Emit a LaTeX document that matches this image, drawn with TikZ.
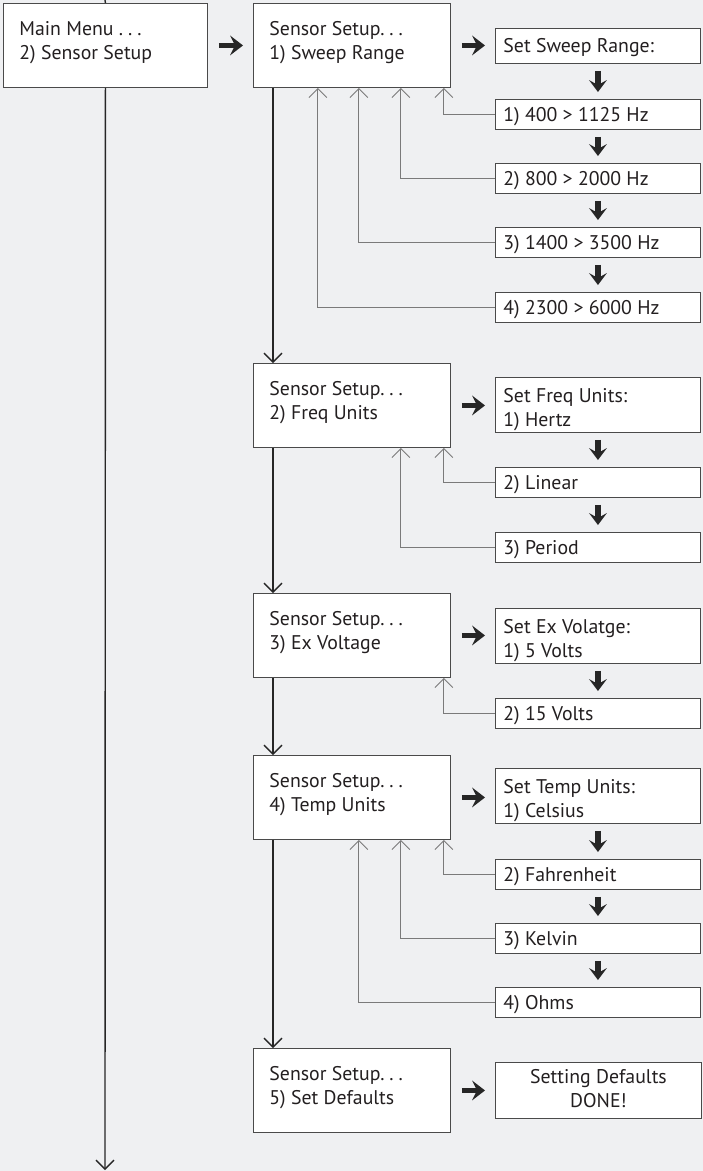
\documentclass[tikz,border=0pt]{standalone}
\usepackage{fontspec}
\setmainfont{PT Sans}
\usetikzlibrary{arrows.meta}
\definecolor{bg}{HTML}{EFF0F2}
\definecolor{boxc}{HTML}{4A4A4A}
\definecolor{fbc}{HTML}{7A7A7A}
\definecolor{mainc}{HTML}{262626}
\definecolor{txtc}{HTML}{231F20}
\newcommand\bigtxt[3][197pt]{\parbox[c][84pt][t]{#1}{\leftskip16pt\rule{0pt}{32pt}#2\\#3}}
\newcommand\onel[3]{\parbox[c][#1][t]{205pt}{\leftskip8pt\rule{0pt}{#2}#3}}
\newcommand\twol[2]{\parbox[c][55pt][t]{205pt}{\leftskip8pt\rule{0pt}{25pt}#1\\#2}}
\newcommand\dotsp{.\hspace{5pt}.\hspace{5pt}.}
\begin{document}
\begin{tikzpicture}[x=1pt,y=-1pt,
  every node/.style={font=\fontsize{19.8}{24}\selectfont, text=txtc},
  bigbox/.style={draw=boxc, fill=white, line width=0.9pt, inner sep=0pt, minimum width=197pt, minimum height=84pt, anchor=north west},
  smallbox/.style={draw=boxc, fill=white, line width=0.9pt, inner sep=0pt, minimum width=205pt, anchor=north west},
  mainln/.style={draw=mainc, line width=1.4pt},
  openhead/.style={-{Straight Barb[length=9pt,width=18pt]}},
  fb/.style={draw=fbc, line width=0.9pt, openhead},
  boldh/.style={draw=mainc, line width=5.5pt, -{Stealth[length=13pt,width=20pt,inset=5pt,line width=0pt]}, shorten <=11pt, shorten >=10pt},
  boldv/.style={draw=mainc, line width=5.5pt, -{Stealth[length=12pt,width=18pt,inset=5pt,line width=0pt]}, shorten <=7pt, shorten >=7pt}
]
\fill[bg] (0,0) rectangle (703,1171);
\useasboundingbox (0,0) rectangle (703,1171);

% left column
\node[bigbox, minimum width=204pt] (main) at (3,3) {\bigtxt[204pt]{Main Menu \dotsp}{2) Sensor Setup}};
\coordinate (top) at (105,0);
\coordinate (bot) at (105,1170);

% sensor column
\node[bigbox] (s1) at (253,3) {\bigtxt{Sensor Setup\dotsp}{1) Sweep Range}};
\node[bigbox] (s2) at (253,363) {\bigtxt{Sensor Setup\dotsp}{2) Freq Units}};
\node[bigbox] (s3) at (253,593) {\bigtxt{Sensor Setup\dotsp}{3) Ex Voltage}};
\node[bigbox] (s4) at (253,755) {\bigtxt{Sensor Setup\dotsp}{4) Temp Units}};
\node[bigbox] (s5) at (253,1048) {\bigtxt{Sensor Setup\dotsp}{5) Set Defaults}};

% right column
\node[smallbox] (sw0) at (495,28) {\onel{35pt}{24pt}{Set Sweep Range:}};
\node[smallbox] (sw1) at (495,99) {\onel{30pt}{22pt}{1) 400 > 1125 Hz}};
\node[smallbox] (sw2) at (495,163) {\onel{30pt}{22pt}{2) 800 > 2000 Hz}};
\node[smallbox] (sw3) at (495,227) {\onel{30pt}{22pt}{3) 1400 > 3500 Hz}};
\node[smallbox] (sw4) at (495,292) {\onel{30pt}{22pt}{4) 2300 > 6000 Hz}};

\node[smallbox] (fq0) at (495,377) {\twol{Set Freq Units:}{1) Hertz}};
\node[smallbox] (fq1) at (495,467) {\onel{30pt}{22pt}{2) Linear}};
\node[smallbox] (fq2) at (495,532) {\onel{30pt}{22pt}{3) Period}};

\node[smallbox] (ex0) at (495,608) {\twol{Set Ex Volatge:}{1) 5 Volts}};
\node[smallbox] (ex1) at (495,698) {\onel{30pt}{22pt}{2) 15 Volts}};

\node[smallbox] (tp0) at (495,768) {\twol{Set Temp Units:}{1) Celsius}};
\node[smallbox] (tp1) at (495,859) {\onel{30pt}{22pt}{2) Fahrenheit}};
\node[smallbox] (tp2) at (495,923) {\onel{30pt}{22pt}{3) Kelvin}};
\node[smallbox] (tp3) at (495,987) {\onel{30pt}{22pt}{4) Ohms}};

\node[smallbox, minimum width=206pt] (df) at (495,1062) {\parbox[c][56pt][t]{206pt}{\centering\rule{0pt}{21pt}Setting Defaults\\DONE!}};

% main lines
\draw[mainln] (top) -- (main.north);
\draw[mainln, openhead] (main.south) -- (bot);
\draw[mainln, openhead] ([xshift=20pt]s1.south west) -- ([xshift=20pt]s2.north west);
\draw[mainln, openhead] ([xshift=20pt]s2.south west) -- ([xshift=20pt]s3.north west);
\draw[mainln, openhead] ([xshift=20pt]s3.south west) -- ([xshift=20pt]s4.north west);
\draw[mainln, openhead] ([xshift=20pt]s4.south west) -- ([xshift=20pt]s5.north west);

% feedback lines
\draw[fb] (sw1.west) -| ([xshift=-7pt]s1.south east);
\draw[fb] (sw2.west) -| ([xshift=-50pt]s1.south east);
\draw[fb] (sw3.west) -| ([xshift=-92pt]s1.south east);
\draw[fb] (sw4.west) -| ([xshift=-133pt]s1.south east);
\draw[fb] (fq1.west) -| ([xshift=-7pt]s2.south east);
\draw[fb] (fq2.west) -| ([xshift=-50pt]s2.south east);
\draw[fb] (ex1.west) -| ([xshift=-7pt]s3.south east);
\draw[fb] (tp1.west) -| ([xshift=-7pt]s4.south east);
\draw[fb] (tp2.west) -| ([xshift=-50pt]s4.south east);
\draw[fb] (tp3.west) -| ([xshift=-92pt]s4.south east);

% bold right arrows
\draw[boldh] (main.east) -- (main.east -| s1.west);
\draw[boldh] (s1.east) -- (s1.east -| sw0.west);
\draw[boldh] (s2.east) -- (s2.east -| fq0.west);
\draw[boldh] (s3.east) -- (s3.east -| ex0.west);
\draw[boldh] (s4.east) -- (s4.east -| tp0.west);
\draw[boldh] (s5.east) -- (s5.east -| df.west);

% bold down arrows
\draw[boldv] (sw0.south) -- (sw1.north);
\draw[boldv] (sw1.south) -- (sw2.north);
\draw[boldv] (sw2.south) -- (sw3.north);
\draw[boldv] (sw3.south) -- (sw4.north);
\draw[boldv] (fq0.south) -- (fq1.north);
\draw[boldv] (fq1.south) -- (fq2.north);
\draw[boldv] (ex0.south) -- (ex1.north);
\draw[boldv] (tp0.south) -- (tp1.north);
\draw[boldv] (tp1.south) -- (tp2.north);
\draw[boldv] (tp2.south) -- (tp3.north);
\end{tikzpicture}
\end{document}
